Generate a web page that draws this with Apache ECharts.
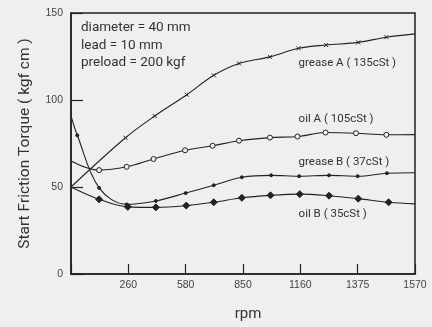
<!DOCTYPE html>
<html><head><meta charset="utf-8">
<script src="https://cdn.jsdelivr.net/npm/echarts@6/dist/echarts.min.js"></script>
<style>html,body{margin:0;padding:0;background:#eeefee;}#c{width:432px;height:327px;}</style>
</head><body><div id="c"></div>
<script>
// x positions are in axis-index units (ticks evenly spaced, labelled with rpm values)
var xTickLabels = ['', '260', '580', '850', '1160', '1375', '1570'];
var yTicks = [0, 50, 100, 150];

var greaseA_x = [0, 0.95, 1.46, 2.02, 2.49, 2.93, 3.47, 3.97, 4.45, 5.01, 5.50, 6];
var greaseA_y = [50, 78.3, 90.8, 103, 114.2, 121, 124.8, 129.7, 131.6, 133.1, 136.1, 138];

var oilA_x = [0, 0.49, 0.97, 1.44, 1.99, 2.47, 2.93, 3.47, 3.95, 4.44, 4.97, 5.50, 6];
var oilA_y = [65, 59.7, 61.6, 66.1, 71.1, 73.7, 76.6, 78.4, 79.0, 81.3, 80.9, 80.0, 80.1];

var greaseB_x = [0, 0.11, 0.49, 0.97, 1.48, 2.00, 2.49, 2.98, 3.49, 3.98, 4.50, 5.00, 5.51, 6];
var greaseB_y = [90.9, 79.7, 49.5, 40.0, 42.0, 46.5, 51.0, 55.6, 56.7, 56.2, 56.7, 56.2, 57.9, 58.2];

var oilB_x = [0, 0.49, 0.99, 1.48, 2.01, 2.49, 2.98, 3.48, 3.99, 4.50, 5.01, 5.54, 6];
var oilB_y = [50, 42.9, 38.6, 38.3, 39.3, 41.2, 43.8, 45.2, 45.9, 45.0, 43.3, 41.2, 40.3];

var seriesNames = ['grease A ( 135cSt )', 'oil A ( 105cSt )', 'grease B ( 37cSt )', 'oil B ( 35cSt )'];
var labelPos = [[3.97, 121.4], [3.97, 89.2], [3.97, 64.3], [3.97, 34.4]];
var notes = ['diameter = 40 mm', 'lead = 10 mm', 'preload = 200 kgf'];

var crossPath = 'path://M0,0L10,10M10,0L0,10';

function pts(xs, ys) {
  return xs.map(function (x, i) {
    var d = {value: [x, ys[i]]};
    if (i === 0 || i === xs.length - 1) d.symbol = 'none';
    return d;
  });
}

var ink = '#222';
function mkSeries(name, xs, ys, sym, size, fill, idx) {
  return {
    name: name, type: 'line', smooth: 0.35, data: pts(xs, ys),
    symbol: sym, symbolSize: size, showAllSymbol: true,
    lineStyle: {color: ink, width: 1.1},
    itemStyle: {color: fill, borderColor: ink, borderWidth: 1},
    markPoint: {
      symbol: 'circle', symbolSize: 0, silent: true,
      label: {show: true, position: 'right', distance: 0, formatter: name,
        color: '#333', fontFamily: 'Roboto', fontSize: 11.5},
      data: [{coord: labelPos[idx]}]
    },
    z: 3
  };
}

var chart = echarts.init(document.getElementById('c'));
chart.setOption({
  backgroundColor: '#eeefee',
  animation: false,
  grid: {left: 71, right: 17, top: 13, bottom: 50, show: true, borderColor: ink, borderWidth: 1.5, backgroundColor: 'transparent'},
  xAxis: {
    type: 'value', min: 0, max: 6, interval: 1,
    name: 'rpm', nameLocation: 'middle', nameGap: 33,
    nameTextStyle: {color: '#333', fontSize: 15, fontFamily: 'Roboto', padding: [0, 0, 0, 10]},
    axisLine: {show: true, lineStyle: {color: ink, width: 1.5}},
    axisTick: {show: true, inside: true, length: 10, lineStyle: {color: ink, width: 1.2}},
    axisLabel: {color: '#444', fontSize: 10.5, fontFamily: 'Liberation Sans', margin: 6,
      formatter: function (v) { return xTickLabels[Math.round(v)]; }},
    splitLine: {show: false}
  },
  yAxis: {
    type: 'value', min: yTicks[0], max: yTicks[yTicks.length - 1], interval: 50,
    name: 'Start Friction Torque ( kgf cm )', nameLocation: 'middle', nameGap: 38,
    nameTextStyle: {color: '#333', fontSize: 15.5, fontFamily: 'Roboto'},
    axisLine: {show: true, lineStyle: {color: ink, width: 1.5}},
    axisTick: {show: true, inside: true, length: 12, lineStyle: {color: ink, width: 1.2}},
    axisLabel: {color: '#444', fontSize: 10.5, fontFamily: 'Liberation Sans', margin: 8},
    splitLine: {show: false}
  },
  series: [
    mkSeries(seriesNames[0], greaseA_x, greaseA_y, crossPath, 4, ink, 0),
    mkSeries(seriesNames[1], oilA_x, oilA_y, 'circle', 5, '#eeefee', 1),
    mkSeries(seriesNames[2], greaseB_x, greaseB_y, 'circle', 3, ink, 2),
    mkSeries(seriesNames[3], oilB_x, oilB_y, 'diamond', 7, ink, 3)
  ],
  graphic: notes.map(function (t, i) {
    return {type: 'text', left: 81, top: 21 + i * 17.5,
      style: {text: t, fill: '#333', font: '13.5px Roboto'}};
  })
});
</script></body></html>
